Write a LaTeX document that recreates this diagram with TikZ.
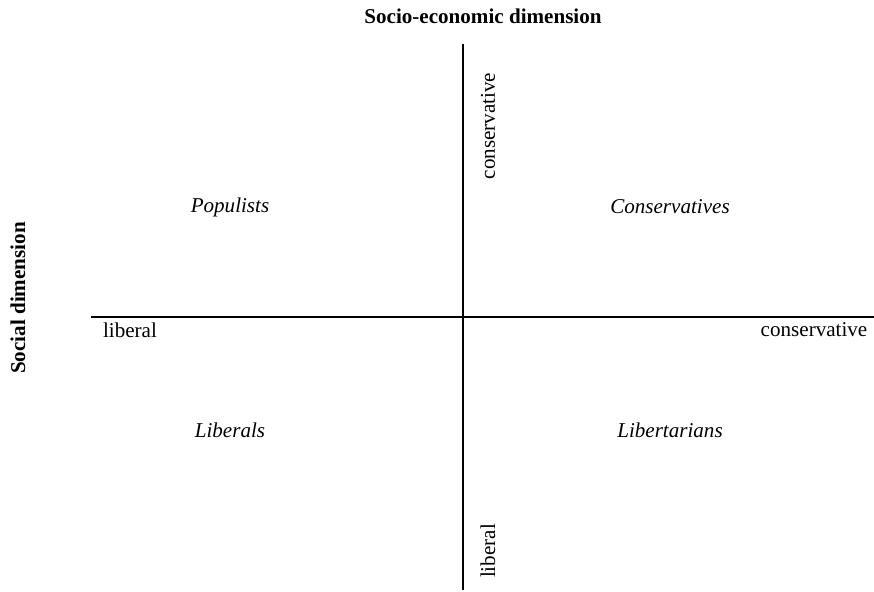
\documentclass[tikz,border=0pt]{standalone}
\usepackage{fontspec}
\setmainfont{Liberation Serif}
\begin{document}
\begin{tikzpicture}[x=0.02cm, y=-0.02cm, font=\fontsize{12}{14}\selectfont,
        axistitle/.style={font=\fontsize{12}{14}\selectfont\bfseries},
        group/.style={font=\fontsize{12}{14}\selectfont\itshape}]
    \useasboundingbox (0, 0) rectangle (874, 591);
    \coordinate (west) at (91, 317);
    \coordinate (east) at (874, 317);
    \coordinate (north) at (463, 44);
    \coordinate (south) at (463, 590);
    \draw[line width=0.6pt] (west) -- (east);
    \draw[line width=0.6pt] (north) -- (south);
    \node[axistitle] (econ) at (483, 16) {Socio-economic dimension};
    \node[axistitle, rotate=90] (social) at (18, 298) {Social dimension};
    \node[rotate=90] (upper) at (488, 126) {conservative};
    \node[rotate=90] (lower) at (488, 551) {liberal};
    \node (left) at (130, 330) {liberal};
    \node (right) at (814, 330) {conservative};
    \node[group] (populists) at (230, 207) {Populists};
    \node[group] (conservatives) at (670, 207) {Conservatives};
    \node[group] (liberals) at (230, 430) {Liberals};
    \node[group] (libertarians) at (670, 430) {Libertarians};
\end{tikzpicture}
\end{document}
